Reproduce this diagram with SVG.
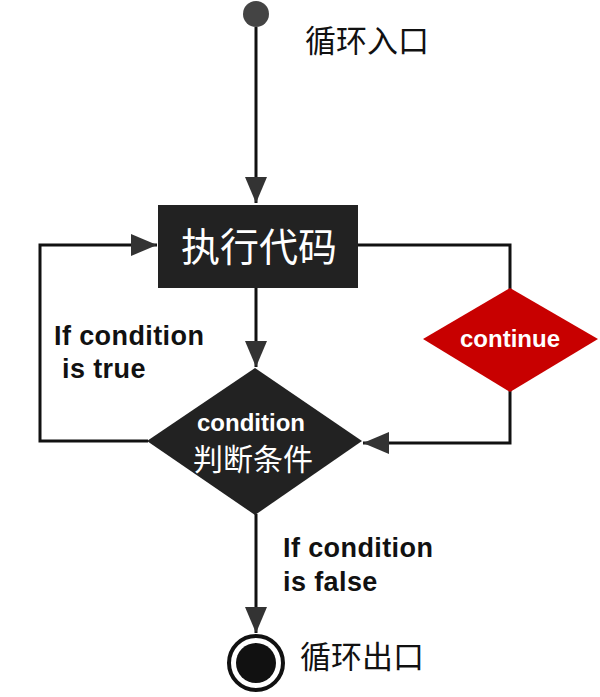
<svg xmlns="http://www.w3.org/2000/svg" width="600" height="697" viewBox="0 0 600 697">
<style>
.ln{fill:none;stroke:#111;stroke-width:3}
.cjk{font-family:"Noto Sans CJK SC","Noto Sans",sans-serif}
.lbl{font-family:"Liberation Sans",Arial,sans-serif;font-weight:bold;font-size:27px;letter-spacing:0.4px;fill:#111}
.wt{font-family:"Liberation Sans",Arial,sans-serif;font-weight:bold;fill:#fff}
</style>
<defs>
<marker id="ah" markerWidth="26" markerHeight="22" refX="26" refY="11" orient="auto" markerUnits="userSpaceOnUse">
<path d="M0,0 L26,11 L0,22 Z" fill="#333"/>
</marker>
</defs>
<rect width="600" height="697" fill="#fff"/>
<g id="connectors">
<path class="ln" d="M256,27 L256,203" marker-end="url(#ah)"/>
<path class="ln" d="M256,288 L256,367" marker-end="url(#ah)"/>
<path class="ln" d="M358,245 L510,245 L510,289"/>
<path class="ln" d="M510,391 L510,443 L363,443" marker-end="url(#ah)"/>
<path class="ln" d="M148,441 L40,441 L40,245 L157,245" marker-end="url(#ah)"/>
<path class="ln" d="M256,514 L256,633" marker-end="url(#ah)"/>
</g>
<g id="start">
<circle cx="256" cy="14" r="13" fill="#444"/>
<text x="305" y="52" class="cjk" font-size="31" fill="#111">循环入口</text>
</g>
<g id="exec">
<rect x="158" y="205" width="200" height="83" fill="#222"/>
<text x="259" y="261" class="cjk" font-size="39" fill="#fff" text-anchor="middle">执行代码</text>
</g>
<g id="continue">
<polygon points="510,288 598,339 510,392 423,339" fill="#c80000"/>
<text x="510" y="347" class="wt" font-size="24" text-anchor="middle">continue</text>
</g>
<g id="condition">
<polygon points="255,368 362,441 255,515 147,441" fill="#222"/>
<text x="251" y="431" class="wt" font-size="24" text-anchor="middle">condition</text>
<text x="253" y="470" class="cjk" font-size="30" fill="#fff" text-anchor="middle">判断条件</text>
</g>
<g id="label-true">
<text x="54" y="345" class="lbl">If condition</text>
<text x="62" y="378" class="lbl">is true</text>
</g>
<g id="label-false">
<text x="283" y="557" class="lbl">If condition</text>
<text x="283" y="591" class="lbl">is false</text>
</g>
<g id="end">
<circle cx="256" cy="663" r="27" fill="#fff" stroke="#111" stroke-width="4"/>
<circle cx="256" cy="663" r="20" fill="#111"/>
<text x="300" y="668" class="cjk" font-size="31" fill="#111">循环出口</text>
</g>
</svg>
